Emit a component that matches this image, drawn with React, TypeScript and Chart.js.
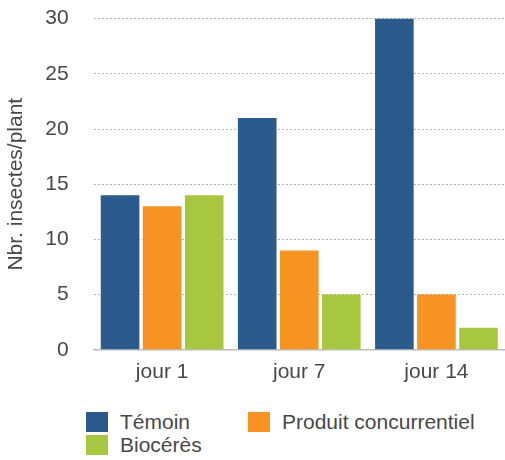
import React, { useEffect, useRef } from "react";
import { Chart, registerables } from "chart.js";

Chart.register(...registerables);

const categories = ["jour 1", "jour 7", "jour 14"];
const seriesNames = ["Témoin", "Produit concurrentiel", "Biocérès"];
const temoin = [14, 21, 30];
const concurrent = [13, 9, 5];
const bioceres = [14, 5, 2];
const colors = ["#2b5a8c", "#f69322", "#a6c73f"];
const yTicks = [0, 5, 10, 15, 20, 25, 30];

const FONT = "'Liberation Sans', Arial, Helvetica, sans-serif";
const TEXT = "#484848";
const FS = 21;

export default function App() {
  const ref = useRef<HTMLCanvasElement | null>(null);

  useEffect(() => {
    document.body.style.margin = "0";
    const ctx = ref.current!;
    const values = [temoin, concurrent, bioceres];
    const chart = new Chart(ctx, {
      type: "bar",
      data: {
        labels: categories,
        datasets: seriesNames.map((n, i) => ({
          label: n,
          data: values[i],
          backgroundColor: colors[i],
          borderWidth: 0,
          categoryPercentage: 0.92,
          barPercentage: 0.918,
        })),
      },
      options: {
        animation: false,
        responsive: false,
        maintainAspectRatio: false,
        layout: { padding: { top: 0, right: 0, left: 0, bottom: 4 } },
        plugins: {
          legend: { display: false },
          tooltip: { enabled: false },
        },
        scales: {
          x: {
            grid: { display: false, drawTicks: false },
            border: { display: true, color: "#bbbbbb", width: 1.5 },
            ticks: { color: TEXT, font: { family: FONT, size: FS }, padding: 10 },
          },
          y: {
            min: 0,
            max: 30,
            afterBuildTicks: (s: any) => {
              s.ticks = yTicks.map((v) => ({ value: v }));
            },
            grid: {
              color: (c: any) => (c.tick && c.tick.value === 0 ? "rgba(0,0,0,0)" : "#b0b0b0"),
              drawTicks: true,
              tickLength: 25,
              tickColor: "rgba(0,0,0,0)",
              lineWidth: 1,
            },
            border: { display: false, dash: [2, 2] },
            ticks: { color: TEXT, font: { family: FONT, size: FS }, padding: 0 },
            title: {
              display: true,
              text: "Nbr. insectes/plant",
              color: TEXT,
              font: { family: FONT, size: FS },
              padding: { top: 4, bottom: 16 },
            },
          },
        },
      },
    });
    return () => chart.destroy();
  }, []);

  const box = (c: string): React.CSSProperties => ({
    display: "inline-block",
    width: 22,
    height: 20,
    background: c,
    marginRight: 12,
  });
  const item: React.CSSProperties = {
    display: "flex",
    alignItems: "center",
    fontFamily: FONT,
    fontSize: FS,
    color: TEXT,
    height: 23,
    whiteSpace: "nowrap",
  };

  return (
    <div style={{ position: "relative", width: 505, height: 460, background: "#fff" }}>
      <canvas
        ref={ref}
        width={505}
        height={393}
        style={{ display: "block", position: "absolute", left: 0, top: 6 }}
      />
      <div
        style={{
          position: "absolute",
          left: 86,
          top: 410,
          display: "grid",
          gridTemplateColumns: "162px auto",
        }}
      >
        {seriesNames.map((n, i) => (
          <div key={n} style={item}>
            <span style={box(colors[i])} />
            <span>{n}</span>
          </div>
        ))}
      </div>
    </div>
  );
}
